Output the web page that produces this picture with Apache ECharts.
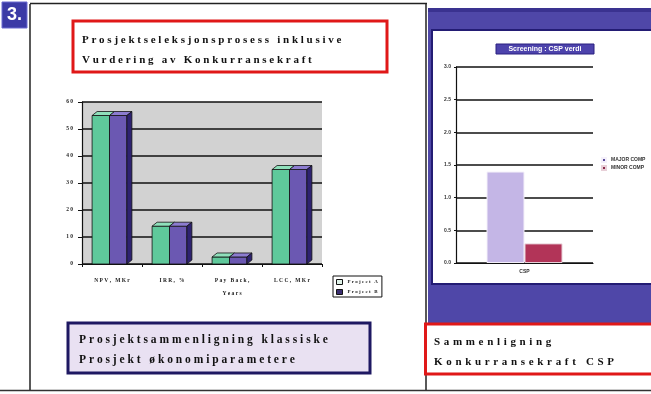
<!DOCTYPE html>
<html><head><meta charset="utf-8">
<script src="https://cdn.jsdelivr.net/npm/echarts@6/dist/echarts.min.js"></script>
<style>html,body{margin:0;padding:0;background:#fff}#c{width:651px;height:394px}</style>
</head><body><div id="c"></div>
<script>
// ---- data ----
const leftCategories = ['NPV, MKr', 'IRR, %', 'Pay Back,\nYears', 'LCC, MKr'];
const projectA = [55, 14, 2.6, 35];
const projectB = [55, 14, 2.6, 35];
const leftSeriesNames = ['Project A', 'Project B'];
const rightCategories = ['CSP'];
const majorComp = [1.4];
const minorComp = [0.3];
const rightSeriesNames = ['MAJOR COMP', 'MINOR COMP'];
const rightTitle = 'Screening : CSP verdi';
const boxTitle = ['Prosjektseleksjonsprosess inklusive', 'Vurdering av Konkurransekraft'];
const boxLeft = ['Prosjektsammenligning klassiske', 'Prosjekt økonomiparametere'];
const boxRight = ['Sammenligning', 'Konkurransekraft CSP'];

function spaced(s, sp) { return s.split('\n').map(l => l.split('').join(sp)).join('\n'); }

const chart = echarts.init(document.getElementById('c'), null, {renderer: 'canvas'});

const colA = '#5fc99b', colATop = '#8fe0bb';
const colB = '#6b58b2', colBTop = '#8c7cd0', colBSide = '#2e2270';
const DX = 5, DY = 4;

function make3D(idx) {
  return function (params, api) {
    const cat = api.value(0), val = api.value(1);
    const top = api.coord([cat, val]);
    const base = api.coord([cat, 0]);
    const bw = api.size([1, 0])[0];
    const w = bw * 0.29;
    const c = top[0] - DX / 2;
    const x0 = idx === 0 ? c - w : c;
    const x1 = x0 + w;
    const y = top[1], yb = base[1];
    const line = {stroke: '#111', lineWidth: 0.8};
    const children = [
      {type: 'rect', shape: {x: x0, y: y, width: w, height: yb - y}, style: Object.assign({fill: idx === 0 ? colA : colB}, line)},
      {type: 'polygon', shape: {points: [[x0, y], [x1, y], [x1 + DX, y - DY], [x0 + DX, y - DY]]}, style: Object.assign({fill: idx === 0 ? colATop : colBTop}, line)}
    ];
    if (idx === 1) {
      children.push({type: 'polygon', shape: {points: [[x1, y], [x1 + DX, y - DY], [x1 + DX, yb - DY], [x1, yb]]}, style: Object.assign({fill: colBSide}, line)});
    }
    return {type: 'group', children: children};
  };
}

const tf = '"Liberation Serif", "DejaVu Serif", serif';
const sf = '"Liberation Sans", Arial, sans-serif';

const option = {
  animation: false,
  backgroundColor: '#ffffff',
  graphic: [
    // frame lines
    {type: 'line', shape: {x1: 30, y1: 4, x2: 30, y2: 390}, style: {stroke: '#222', lineWidth: 1.5}, z: 1},
    {type: 'line', shape: {x1: 30, y1: 3.5, x2: 427, y2: 3.5}, style: {stroke: '#222', lineWidth: 1.5}, z: 1},
    {type: 'line', shape: {x1: 426, y1: 3, x2: 426, y2: 390}, style: {stroke: '#222', lineWidth: 1.5}, z: 1},
    {type: 'line', shape: {x1: 0, y1: 390.5, x2: 651, y2: 390.5}, style: {stroke: '#333', lineWidth: 1.5}, z: 1},
    // badge
    {type: 'rect', shape: {x: 2, y: 2, width: 25, height: 26}, style: {fill: '#3b3aa6', stroke: '#6b6ad0', lineWidth: 1}, z: 2},
    {type: 'text', x: 14.5, y: 15, style: {text: '3.', fill: '#fff', font: 'bold 18px ' + sf, align: 'center', verticalAlign: 'middle'}, z: 3},
    // top red box
    {type: 'rect', shape: {x: 73, y: 21, width: 314, height: 51}, style: {fill: '#fff', stroke: '#e01818', lineWidth: 3}, z: 2},
    {type: 'text', x: 82, y: 40, style: {text: spaced(boxTitle[0], '\u2005'), fill: '#111', font: 'bold 11px ' + tf, verticalAlign: 'middle'}, z: 3},
    {type: 'text', x: 82, y: 60, style: {text: spaced(boxTitle[1], '\u2005'), fill: '#111', font: 'bold 11px ' + tf, verticalAlign: 'middle'}, z: 3},
    // bottom-left blue box
    {type: 'rect', shape: {x: 68, y: 323, width: 302, height: 50}, style: {fill: '#e9e1f2', stroke: '#1e1862', lineWidth: 3}, z: 2},
    {type: 'text', x: 79, y: 340, style: {text: spaced(boxLeft[0], '\u2005'), fill: '#111', font: 'bold 11.5px ' + tf, verticalAlign: 'middle'}, z: 3},
    {type: 'text', x: 79, y: 360, style: {text: spaced(boxLeft[1], '\u2005'), fill: '#111', font: 'bold 11.5px ' + tf, verticalAlign: 'middle'}, z: 3},
    // right panel purple
    {type: 'rect', shape: {x: 428, y: 8, width: 223, height: 316}, style: {fill: '#4f47a8'}, z: 0},
    {type: 'rect', shape: {x: 428, y: 8, width: 223, height: 4}, style: {fill: '#3a3290'}, z: 0},
    {type: 'rect', shape: {x: 432, y: 30, width: 221, height: 254}, style: {fill: '#fff', stroke: '#231c74', lineWidth: 2}, z: 0},
    // right title box
    {type: 'rect', shape: {x: 496, y: 44, width: 98, height: 10}, style: {fill: '#4d43ac', stroke: '#2a2080', lineWidth: 1}, z: 2},
    {type: 'text', x: 545, y: 49.5, style: {text: rightTitle, fill: '#fff', font: 'bold 7px ' + sf, align: 'center', verticalAlign: 'middle'}, z: 3},
    // bottom-right red box
    {type: 'rect', shape: {x: 425.5, y: 324, width: 230, height: 50}, style: {fill: '#fff', stroke: '#e01818', lineWidth: 3}, z: 2},
    {type: 'text', x: 434, y: 342, style: {text: spaced(boxRight[0], '\u2004'), fill: '#111', font: 'bold 11px ' + tf, verticalAlign: 'middle'}, z: 3},
    {type: 'text', x: 434, y: 362, style: {text: spaced(boxRight[1], '\u2004'), fill: '#111', font: 'bold 11px ' + tf, verticalAlign: 'middle'}, z: 3}
  ],
  legend: [
    {
      data: [
        {name: leftSeriesNames[0], itemStyle: {color: '#dff2e8', borderColor: '#111', borderWidth: 1}},
        {name: leftSeriesNames[1], itemStyle: {color: '#3a2e70', borderColor: '#111', borderWidth: 1}}
      ],
      orient: 'vertical', left: 333, top: 276,
      itemWidth: 6, itemHeight: 5, itemGap: 4, icon: 'rect',
      borderColor: '#111', borderWidth: 1, padding: [3, 4, 2, 3], backgroundColor: '#fff',
      textStyle: {fontSize: 5, fontWeight: 'bold', color: '#222', fontFamily: tf},
      formatter: n => spaced(n, '\u2005')
    },
    {
      data: [
        {name: rightSeriesNames[0], itemStyle: {color: '#5a4a9a'}},
        {name: rightSeriesNames[1], itemStyle: {color: '#8a2a4a'}}
      ],
      orient: 'vertical', left: 601, top: 157,
      itemWidth: 4, itemHeight: 4, itemGap: 2, icon: 'rect', padding: 0,
      textStyle: {fontSize: 5, fontWeight: 'bold', color: '#333', fontFamily: sf}
    }
  ],
  grid: [
    {left: 82, top: 102, width: 240, height: 162, show: true, backgroundColor: '#d2d2d2', borderWidth: 0, containLabel: false},
    {left: 456, top: 67, width: 137, height: 196, show: true, backgroundColor: '#d8d8d8', borderWidth: 0, containLabel: false}
  ],
  xAxis: [
    {
      gridIndex: 0, type: 'category', data: leftCategories,
      axisLine: {lineStyle: {color: '#111', width: 1.2}}, axisTick: {show: true, length: 3, lineStyle: {color: '#111'}},
      axisLabel: {fontSize: 5.5, fontWeight: 'bold', color: '#222', fontFamily: tf, margin: 10, lineHeight: 13,
        formatter: v => spaced(v, '\u2005')}
    },
    {
      gridIndex: 1, type: 'category', data: rightCategories,
      axisLine: {lineStyle: {color: '#111', width: 1.2}}, axisTick: {show: false},
      axisLabel: {fontSize: 5, fontWeight: 'bold', color: '#333', fontFamily: sf, margin: 6}
    }
  ],
  yAxis: [
    {
      gridIndex: 0, type: 'value', min: 0, max: 60, interval: 10,
      axisLine: {show: true, lineStyle: {color: '#111', width: 1.2}},
      axisTick: {show: true, length: 4, lineStyle: {color: '#111'}},
      splitLine: {lineStyle: {color: '#111', width: 1.5}},
      axisLabel: {fontSize: 5.5, fontWeight: 'bold', color: '#222', fontFamily: tf, margin: 9,
        formatter: v => spaced(String(v), '\u2005')}
    },
    {
      gridIndex: 1, type: 'value', min: 0, max: 3, interval: 0.5,
      axisLine: {show: true, lineStyle: {color: '#111', width: 1.2}},
      axisTick: {show: true, length: 2, lineStyle: {color: '#111'}},
      splitLine: {lineStyle: {color: '#111', width: 1.5}},
      axisLabel: {fontSize: 5, fontWeight: 'bold', color: '#333', fontFamily: sf, margin: 5,
        formatter: v => v.toFixed(1)}
    }
  ],
  series: [
    {
      name: leftSeriesNames[0], type: 'custom', xAxisIndex: 0, yAxisIndex: 0,
      renderItem: make3D(0), itemStyle: {color: colA, borderColor: '#111', borderWidth: 0.8},
      encode: {x: 0, y: 1}, data: projectA.map((v, i) => [i, v]), z: 5
    },
    {
      name: leftSeriesNames[1], type: 'custom', xAxisIndex: 0, yAxisIndex: 0,
      renderItem: make3D(1), itemStyle: {color: colB, borderColor: '#111', borderWidth: 0.8},
      encode: {x: 0, y: 1}, data: projectB.map((v, i) => [i, v]), z: 5
    },
    {
      name: rightSeriesNames[0], type: 'bar', xAxisIndex: 1, yAxisIndex: 1,
      data: majorComp, barWidth: 38, barGap: '0%',
      itemStyle: {color: '#c4b6e6', borderColor: '#f4f0fa', borderWidth: 1}
    },
    {
      name: rightSeriesNames[1], type: 'bar', xAxisIndex: 1, yAxisIndex: 1,
      data: minorComp, barWidth: 38, barGap: '0%',
      itemStyle: {color: '#b23458', borderColor: '#e8d0d8', borderWidth: 1}
    }
  ]
};
chart.setOption(option);
</script>
</body></html>
